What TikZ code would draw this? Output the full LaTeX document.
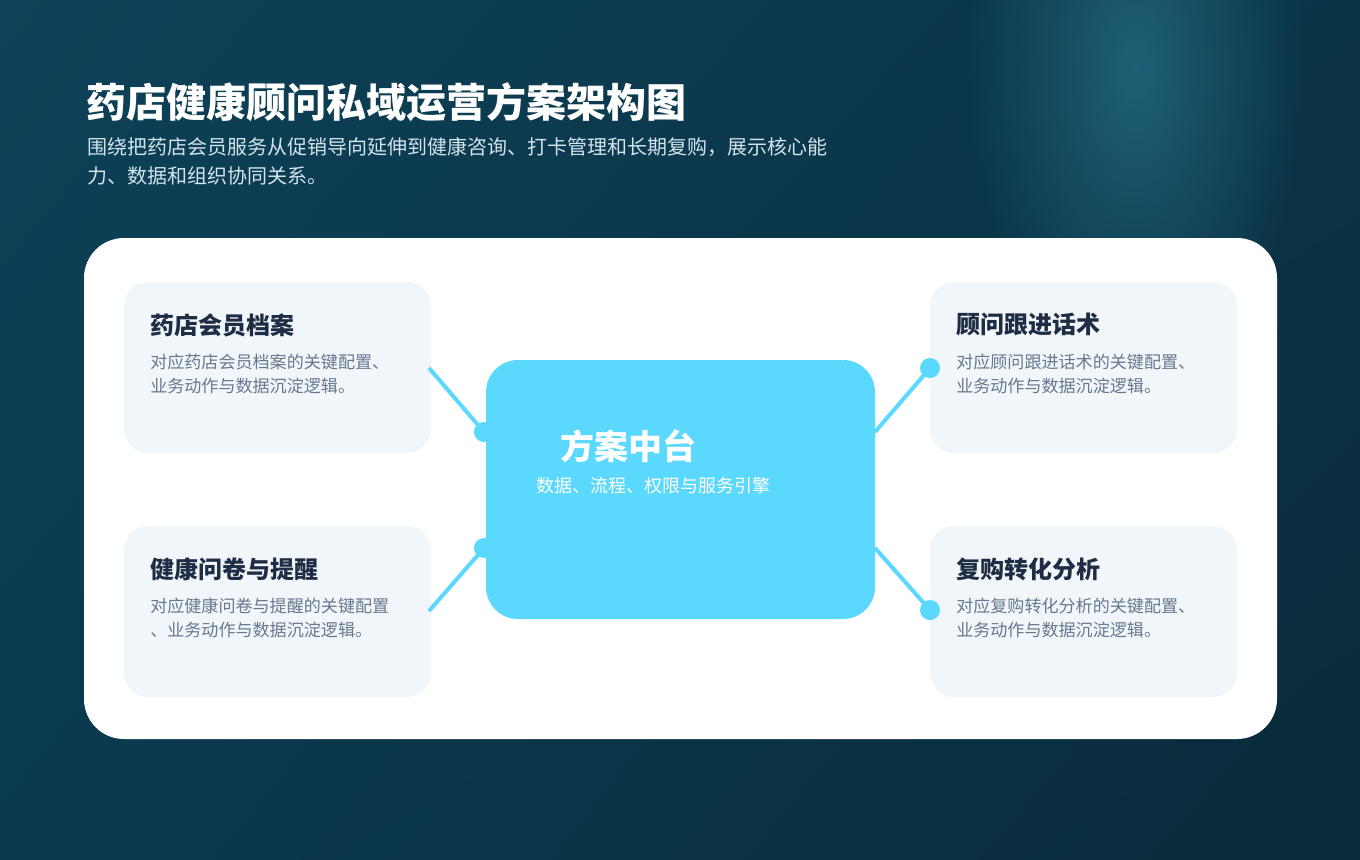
\documentclass[tikz,border=0pt]{standalone}
\usepackage{fontspec}
\newfontfamily\cjk{Noto Sans CJK SC}
\usetikzlibrary{fadings,shadings}
\tikzfading[name=glowfade, inner color=transparent!0, outer color=transparent!100]
\definecolor{bgUL}{HTML}{0D4258}
\definecolor{bgUR}{HTML}{0B3346}
\definecolor{bgLL}{HTML}{0B3A4F}
\definecolor{bgLR}{HTML}{092A3A}
\definecolor{glow}{HTML}{1F6076}
\definecolor{subtxt}{HTML}{D2E4EC}
\definecolor{cardfill}{HTML}{F1F6FB}
\definecolor{cardtitle}{HTML}{1F2D44}
\definecolor{carddesc}{HTML}{68788D}
\definecolor{hub}{HTML}{5BD8FD}
\tikzset{
  cardbox/.style={fill=cardfill, rounded corners=18pt},
  cardtitle/.style={anchor=west, inner sep=0pt, text=cardtitle, font=\cjk\bfseries\fontsize{18}{22}\selectfont},
  carddesc/.style={anchor=west, inner sep=0pt, text=carddesc, font=\cjk\fontsize{12.8}{16}\selectfont},
  link/.style={draw=hub, line width=3pt},
  dot/.style={circle, fill=hub, minimum size=15pt, inner sep=0pt},
}
\begin{document}
\begin{tikzpicture}[x=0.75pt,y=-0.75pt]
\useasboundingbox (0,0) rectangle (1360,860);
% background
\shade[upper left=bgUL, upper right=bgUR, lower left=bgLL, lower right=bgLR] (0,0) rectangle (1360,860);
\fill[glow, path fading=glowfade] (1135,70) ellipse (170 and 330);
% title
\node[anchor=west, inner sep=0pt, text=white, font=\cjk\bfseries\fontsize{30}{36}\selectfont] (title) at (86,102) {药店健康顾问私域运营方案架构图};
\node[anchor=west, inner sep=0pt, text=subtxt, font=\cjk\fontsize{15}{18}\selectfont] (sub1) at (87,147) {围绕把药店会员服务从促销导向延伸到健康咨询、打卡管理和长期复购，展示核心能};
\node[anchor=west, inner sep=0pt, text=subtxt, font=\cjk\fontsize{15}{18}\selectfont] (sub2) at (87,176) {力、数据和组织协同关系。};
% panel
\fill[white, rounded corners=30pt] (84,238) rectangle (1277,739);
% cards
\fill[cardbox] (124,282) rectangle (431,453);
\fill[cardbox] (124,526) rectangle (431,697);
\fill[cardbox] (930,282) rectangle (1237,453);
\fill[cardbox] (930,526) rectangle (1237,697);
\node[cardtitle] (t1) at (150,325) {药店会员档案};
\node[carddesc] (d1a) at (150,362) {对应药店会员档案的关键配置、};
\node[carddesc] (d1b) at (150,386) {业务动作与数据沉淀逻辑。};
\node[cardtitle] (t2) at (150,569) {健康问卷与提醒};
\node[carddesc] (d2a) at (150,606) {对应健康问卷与提醒的关键配置};
\node[carddesc] (d2b) at (150,630) {、业务动作与数据沉淀逻辑。};
\node[cardtitle] (t3) at (956,325) {顾问跟进话术};
\node[carddesc] (d3a) at (956,362) {对应顾问跟进话术的关键配置、};
\node[carddesc] (d3b) at (956,386) {业务动作与数据沉淀逻辑。};
\node[cardtitle] (t4) at (956,569) {复购转化分析};
\node[carddesc] (d4a) at (956,606) {对应复购转化分析的关键配置、};
\node[carddesc] (d4b) at (956,630) {业务动作与数据沉淀逻辑。};
% connector ends
\coordinate (a1) at (429,368);
\coordinate (a2) at (429,611);
\coordinate (a3) at (875,432);
\coordinate (a4) at (875,548);
\node[dot] (p1) at (484,432) {};
\node[dot] (p2) at (484,548) {};
\node[dot] (p3) at (930,368) {};
\node[dot] (p4) at (930,610) {};
\draw[link] (a1) -- (p1.center);
\draw[link] (a2) -- (p2.center);
\draw[link] (a3) -- (p3.center);
\draw[link] (a4) -- (p4.center);
% hub
\fill[hub, rounded corners=24pt] (486,360) rectangle (875,619);
\node[anchor=west, inner sep=0pt, text=white, font=\cjk\bfseries\fontsize{25.5}{30}\selectfont] (hubt) at (560,446) {方案中台};
\node[anchor=west, inner sep=0pt, text=white, font=\cjk\fontsize{13.5}{16}\selectfont] (hubs) at (536,486) {数据、流程、权限与服务引擎};
\end{tikzpicture}
\end{document}
